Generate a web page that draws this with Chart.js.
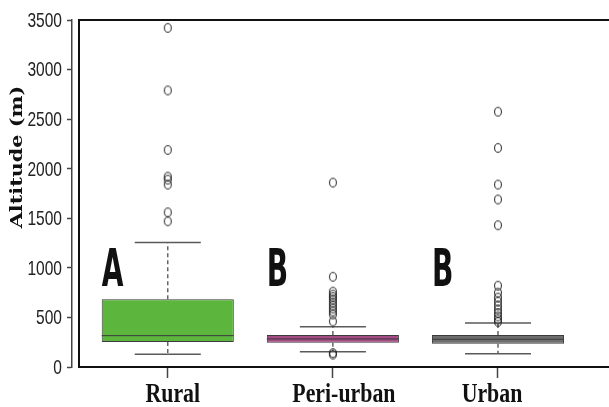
<!DOCTYPE html>
<html>
<head>
<meta charset="utf-8">
<script src="https://cdn.jsdelivr.net/npm/chart.js@4/dist/chart.umd.min.js"></script>
<style>
  html, body { margin: 0; padding: 0; background: #ffffff; }
  canvas { display: block; }
</style>
</head>
<body>
<canvas id="altitudeChart" width="609" height="407"></canvas>
<script>
// Altitude (m) by settlement type: box statistics, outliers and group letters
const categories = ['Rural', 'Peri-urban', 'Urban'];
const groupLetters = ['A', 'B', 'B'];
const lowerWhisker = [128, 155, 134];
const firstQuartile = [253, 245, 235];
const medianValue = [316, 283, 280];
const thirdQuartile = [684, 323, 323];
const upperWhisker = [1256, 407, 444];
const ruralOutliers = [3420, 2790, 2190, 1920, 1890, 1840, 1560, 1470];
const periUrbanOutliers = [1860, 910, 760, 730, 705, 680, 650, 620, 590, 560, 530, 460, 140, 125];
const urbanOutliers = [2575, 2210, 1840, 1690, 1430, 820, 750, 700, 660, 620, 580, 545, 510, 480, 455];
const yTickValues = [0, 500, 1000, 1500, 2000, 2500, 3000, 3500];

// styling
const boxColors = ['#5cb53d', '#a54c86', '#6e6e6e'];
const letterAltitude = 820;          // baseline of the group letters, in metres
const labelNudge = [5, 11, -6];      // horizontal nudge of category labels (px)
const capHalfWidth = 0.2;            // whisker cap half-width, in category units
const boxHalfWidth = 0.4;

const outlierGroups = [ruralOutliers, periUrbanOutliers, urbanOutliers];

// open oval marker for outliers
const ovalMarker = document.createElement('canvas');
ovalMarker.width = 10; ovalMarker.height = 12;
(function () {
  const g = ovalMarker.getContext('2d');
  g.strokeStyle = '#222222';
  g.lineWidth = 1;
  g.beginPath();
  g.ellipse(5, 6, 3.4, 4.3, 0, 0, Math.PI * 2);
  g.stroke();
})();

const boxData = categories.map((c, i) => ({ x: i + 1, y: [firstQuartile[i], thirdQuartile[i]] }));

const whiskerData = [];
const capData = [];
const medianData = [];
categories.forEach((c, i) => {
  const x = i + 1;
  whiskerData.push({ x, y: thirdQuartile[i] }, { x, y: upperWhisker[i] }, { x, y: null },
                   { x, y: firstQuartile[i] }, { x, y: lowerWhisker[i] }, { x, y: null });
  capData.push({ x: x - capHalfWidth, y: upperWhisker[i] }, { x: x + capHalfWidth, y: upperWhisker[i] }, { x, y: null },
               { x: x - capHalfWidth, y: lowerWhisker[i] }, { x: x + capHalfWidth, y: lowerWhisker[i] }, { x, y: null });
  medianData.push({ x: x - boxHalfWidth, y: medianValue[i] }, { x: x + boxHalfWidth, y: medianValue[i] }, { x, y: null });
});

const outlierData = [];
outlierGroups.forEach((vals, i) => vals.forEach(v => outlierData.push({ x: i + 1, y: v })));

// frame around the plotting region, set slightly inside the y axis
const framePlugin = {
  id: 'frame',
  afterDatasetsDraw(chart) {
    const { ctx, chartArea } = chart;
    const left = chartArea.left + 7;
    ctx.save();
    ctx.strokeStyle = '#111111';
    ctx.lineWidth = 2;
    ctx.beginPath();
    ctx.moveTo(chart.width + 2, chartArea.top);
    ctx.lineTo(left, chartArea.top);
    ctx.lineTo(left, chartArea.bottom);
    ctx.lineTo(chart.width + 2, chartArea.bottom);
    ctx.stroke();
    ctx.restore();
  }
};

// tick numbers, category labels, group letters and y-axis title
const textPlugin = {
  id: 'texts',
  afterDraw(chart) {
    const { ctx, chartArea } = chart;
    const xs = chart.scales.x, ys = chart.scales.y;
    ctx.save();
    ctx.fillStyle = '#111111';
    ctx.textBaseline = 'alphabetic';
    ctx.textAlign = 'center';

    // y tick numbers, narrow and right-aligned against the tick marks
    ys.ticks.forEach(t => {
      ctx.save();
      ctx.translate(chartArea.left - 10, ys.getPixelForValue(t.value));
      ctx.scale(0.74, 1);
      ctx.textAlign = 'right';
      ctx.textBaseline = 'middle';
      ctx.fillStyle = '#222222';
      ctx.font = '21px "Liberation Sans", sans-serif';
      ctx.fillText(String(t.value), 0, 1);
      ctx.restore();
    });

    // category names
    categories.forEach((name, i) => {
      const px = xs.getPixelForValue(i + 1) + labelNudge[i];
      ctx.save();
      ctx.translate(px, chartArea.bottom + 35);
      ctx.scale(0.78, 1);
      ctx.font = 'bold 28px "Liberation Serif", "DejaVu Serif", serif';
      ctx.fillText(name, 0, 0);
      ctx.restore();
    });

    // significance letters, aligned with the left edge of each box
    const boxes = chart.getDatasetMeta(0).data;
    groupLetters.forEach((letter, i) => {
      const el = boxes[i];
      const left = el.x - el.width / 2;
      ctx.save();
      ctx.translate(left, ys.getPixelForValue(letterAltitude));
      ctx.scale(0.55, 1);
      ctx.textAlign = 'left';
      ctx.font = 'bold 51px "DejaVu Sans", sans-serif';
      ctx.fillText(letter, 0, 0);
      ctx.restore();
    });

    // y-axis title
    ctx.save();
    ctx.translate(22, 157);
    ctx.rotate(-Math.PI / 2);
    ctx.scale(1.22, 1);
    ctx.font = 'bold 17px "DejaVu Serif", "Liberation Serif", serif';
    ctx.fillText('Altitude (m)', 0, 0);
    ctx.restore();

    ctx.restore();
  }
};

new Chart(document.getElementById('altitudeChart'), {
  data: {
    datasets: [
      {
        type: 'bar',
        data: boxData,
        backgroundColor: boxColors,
        borderColor: '#3c3c3c',
        borderWidth: 1,
        borderSkipped: false,
        barPercentage: 0.8,
        categoryPercentage: 1,
        order: 4
      },
      {
        type: 'line',
        data: whiskerData,
        borderColor: '#5a5a5a',
        borderWidth: 1.4,
        borderDash: [4, 3],
        pointRadius: 0,
        fill: false,
        spanGaps: false,
        order: 3
      },
      {
        type: 'line',
        data: capData,
        borderColor: '#5a5a5a',
        borderWidth: 1.5,
        pointRadius: 0,
        fill: false,
        spanGaps: false,
        order: 2
      },
      {
        type: 'line',
        data: medianData,
        borderColor: '#3a3a3a',
        borderWidth: 1,
        pointRadius: 0,
        fill: false,
        spanGaps: false,
        order: 1
      },
      {
        type: 'line',
        data: outlierData,
        showLine: false,
        pointStyle: ovalMarker,
        pointRadius: 4,
        order: 0
      }
    ]
  },
  options: {
    responsive: false,
    animation: false,
    devicePixelRatio: 1,
    layout: { padding: { top: 20, right: 0, bottom: 0, left: 0 } },
    plugins: { legend: { display: false }, tooltip: { enabled: false } },
    scales: {
      x: {
        type: 'linear',
        offset: false,
        min: 0.42,
        max: 3.642,
        afterBuildTicks: s => { s.ticks = categories.map((c, i) => ({ value: i + 1 })); },
        afterFit: s => { s.height = 40; },
        ticks: { display: false },
        grid: { offset: false, drawOnChartArea: false, drawTicks: true, tickLength: 11, tickColor: '#444444', tickWidth: 1.5 },
        border: { display: false }
      },
      y: {
        type: 'linear',
        min: 0,
        max: 3500,
        afterBuildTicks: s => { s.ticks = yTickValues.map(v => ({ value: v })); },
        afterFit: s => { s.width = 72; },
        ticks: { display: false },
        grid: { drawOnChartArea: false, tickLength: 5, tickColor: '#444444', tickWidth: 1.5 },
        border: { display: true, color: '#444444', width: 1.5 }
      }
    }
  },
  plugins: [framePlugin, textPlugin]
});
</script>
</body>
</html>
